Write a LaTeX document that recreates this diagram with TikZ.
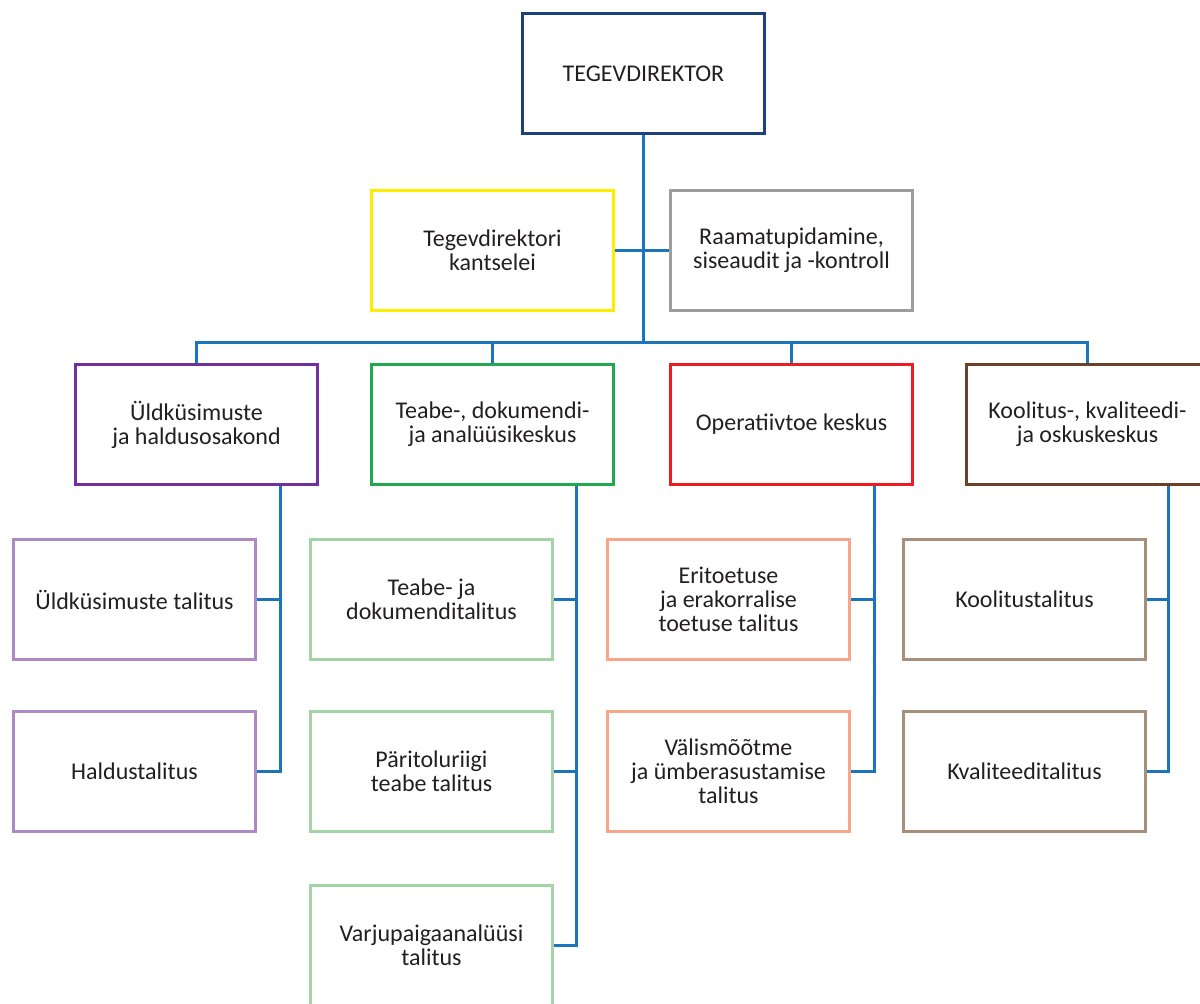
\documentclass[tikz,border=0pt]{standalone}
\usepackage{fontspec}
\setmainfont{Carlito}
\usepackage{xcolor}
\usepackage{tikz}
\usetikzlibrary{positioning}
\definecolor{txt}{HTML}{231F20}
\definecolor{connblue}{HTML}{1B75BC}
\definecolor{topblue}{HTML}{1B427F}
\definecolor{yell}{HTML}{FFED00}
\definecolor{grey}{HTML}{9D9D9D}
\definecolor{purp}{HTML}{7030A0}
\definecolor{grn}{HTML}{22A94F}
\definecolor{rd}{HTML}{ED1C24}
\definecolor{brn}{HTML}{6B4226}
\definecolor{lpurp}{HTML}{AC8BC4}
\definecolor{lgrn}{HTML}{A3D4A5}
\definecolor{salmon}{HTML}{F8A58A}
\definecolor{lbrn}{HTML}{A88F7A}
\tikzset{
  unitbox/.style={draw=#1, line width=1.5pt, minimum width=121pt, minimum height=60pt,
    inner sep=2pt, align=center, text=txt, font=\fontsize{12}{12}\selectfont},
  conn/.style={draw=connblue, line width=1.5pt}
}

\begin{document}
\begin{tikzpicture}
  \useasboundingbox (0,0) rectangle (600pt,-501.5pt);
  \clip (0,0) rectangle (600pt,-501.5pt);

  \node[unitbox=topblue] (top) at (321.75pt,-36.75pt) {TEGEVDIREKTOR};
  \node[unitbox=yell] (kants) at (246.25pt,-125.25pt) {Tegevdirektori\\kantselei};
  \node[unitbox=grey] (raam) at (395.75pt,-125.25pt) {Raamatupidamine,\\siseaudit ja -kontroll};

  \node[unitbox=purp] (yld) at (98.25pt,-212.25pt) {Üldküsimuste\\ja haldusosakond};
  \node[unitbox=grn] (teabe) at (246.25pt,-212.25pt) {Teabe-, dokumendi-\\ja analüüsikeskus};
  \node[unitbox=rd] (oper) at (395.75pt,-212.25pt) {Operatiivtoe keskus};
  \node[unitbox=brn] (kool) at (543.75pt,-212.25pt) {Koolitus-, kvaliteedi-\\ja oskuskeskus};

  % allüksused
  \node[unitbox=lpurp, below=26pt of yld, xshift=-31pt] (yld1) {Üldküsimuste talitus};
  \node[unitbox=lpurp, below=24.5pt of yld1] (yld2) {Haldustalitus};

  \node[unitbox=lgrn, below=26pt of teabe, xshift=-30.5pt] (teabe1) {Teabe- ja\\dokumenditalitus};
  \node[unitbox=lgrn, below=24.5pt of teabe1] (teabe2) {Päritoluriigi\\teabe talitus};
  \node[unitbox=lgrn, below=25.5pt of teabe2] (teabe3) {Varjupaigaanalüüsi\\talitus};

  \node[unitbox=salmon, below=26pt of oper, xshift=-31.5pt] (oper1) {Eritoetuse\\ja erakorralise\\toetuse talitus};
  \node[unitbox=salmon, below=24.5pt of oper1] (oper2) {Välismõõtme\\ja ümberasustamise\\talitus};

  \node[unitbox=lbrn, below=26pt of kool, xshift=-31.5pt] (kool1) {Koolitustalitus};
  \node[unitbox=lbrn, below=24.5pt of kool1] (kool2) {Kvaliteeditalitus};

  % ühendused
  \coordinate (bus) at (321.75pt,-171pt);
  \draw[conn] (top.south) -- (bus);
  \draw[conn] (kants.east) -- (raam.west);
  \draw[conn] (yld.north) |- (bus) -| (kool.north);
  \draw[conn] (teabe.north) -- (teabe.north |- bus);
  \draw[conn] (oper.north) -- (oper.north |- bus);

  \coordinate (yspine) at ([xshift=41.75pt]yld.south);
  \coordinate (tspine) at ([xshift=41.75pt]teabe.south);
  \coordinate (ospine) at ([xshift=41.25pt]oper.south);
  \coordinate (kspine) at ([xshift=40.25pt]kool.south);

  \draw[conn] (yspine) |- (yld2.east);
  \draw[conn] (yld1.east) -- (yld1.east -| yspine);
  \draw[conn] (tspine) |- (teabe3.east);
  \draw[conn] (teabe1.east) -- (teabe1.east -| tspine);
  \draw[conn] (teabe2.east) -- (teabe2.east -| tspine);
  \draw[conn] (ospine) |- (oper2.east);
  \draw[conn] (oper1.east) -- (oper1.east -| ospine);
  \draw[conn] (kspine) |- (kool2.east);
  \draw[conn] (kool1.east) -- (kool1.east -| kspine);
\end{tikzpicture}
\end{document}
